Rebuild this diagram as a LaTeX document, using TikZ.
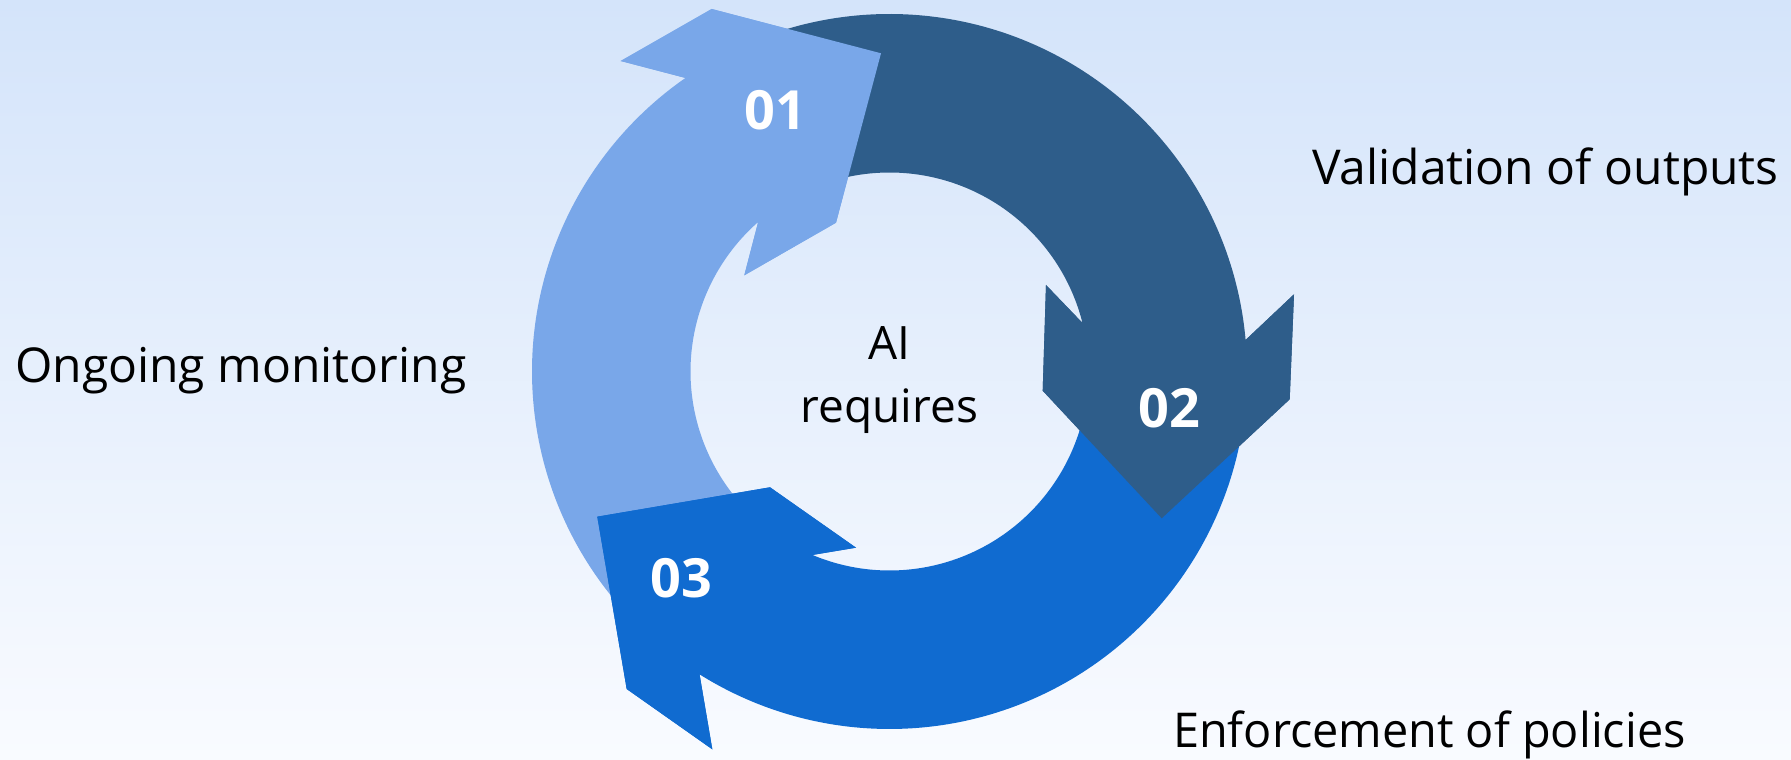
\documentclass[tikz,border=0pt]{standalone}
\usepackage{fontspec}
\setmainfont{Open Sans}
\usetikzlibrary{calc}
\definecolor{bgtop}{RGB}{212,228,250}
\definecolor{bgbot}{RGB}{249,251,255}
\definecolor{arrowA}{RGB}{121,167,233}
\definecolor{arrowB}{RGB}{46,93,138}
\definecolor{arrowC}{RGB}{16,107,208}
\begin{document}
\begin{tikzpicture}[x=1pt,y=1pt,
  sidelabel/.style={font=\fontsize{48}{56}\selectfont, text=black, inner sep=0pt},
  centerlabel/.style={font=\fontsize{46}{54}\selectfont, text=black, inner sep=0pt},
  numlabel/.style={font=\fontsize{54}{60}\selectfont\bfseries, text=white, inner sep=0pt},
]
\useasboundingbox (0,0) rectangle (1791,760);
\shade[top color=bgtop, bottom color=bgbot] (0,0) rectangle (1791,760);
\coordinate (O) at (889.5,388.5);
\def\Ro{357.5}
\def\Ri{199}
% pass 1: full arrows
\fill[arrowA] ($(O)+(222:\Ro)$) arc[start angle=222, end angle=124.8, radius=\Ro]
  -- (620.7,699) -- (711.7,751) -- (881,706.7) -- (836,537.3) -- (744.3,484.7)
  -- ($(O)+(131.3:\Ri)$) arc[start angle=131.3, end angle=222, radius=\Ri] -- cycle;
\fill[arrowB] ($(O)+(115:\Ro)$) arc[start angle=115, end angle=5.06, radius=\Ro]
  -- (1294,465.7) -- (1289.7,360.7) -- (1161.7,241.7) -- (1042.7,369.3) -- (1046,475)
  -- ($(O)+(14.1:\Ri)$) arc[start angle=14.1, end angle=115, radius=\Ri] -- cycle;
\fill[arrowC] ($(O)+(-8:\Ro)$) arc[start angle=-8, end angle=-122.1, radius=\Ro]
  -- (712.3,10.7) -- (626.7,71) -- (597.3,243.3) -- (770,272.7) -- (856,212.3)
  -- ($(O)+(-112.8:\Ri)$) arc[start angle=-112.8, end angle=-8, radius=\Ri] -- cycle;
% pass 2: heads on top
\fill[arrowA] ($(O)+(124.8:\Ro)$) -- (620.7,699) -- (711.7,751) -- (881,706.7)
  -- (836,537.3) -- (744.3,484.7) -- ($(O)+(131.3:\Ri)$) -- cycle;
\fill[arrowB] ($(O)+(5.06:\Ro)$) -- (1294,465.7) -- (1289.7,360.7) -- (1161.7,241.7)
  -- (1042.7,369.3) -- (1046,475) -- ($(O)+(14.1:\Ri)$) -- cycle;
\fill[arrowC] ($(O)+(-122.1:\Ro)$) -- (712.3,10.7) -- (626.7,71) -- (597.3,243.3)
  -- (770,272.7) -- (856,212.3) -- ($(O)+(-112.8:\Ri)$) -- cycle;
% numbers
\node[numlabel] (n1) at (775,650) {01};
\node[numlabel] (n2) at (1169,352) {02};
\node[numlabel] (n3) at (681,182) {03};
% center text
\node[centerlabel, anchor=base] (ai) at (889.5,400) {AI};
\node[centerlabel, anchor=base] (req) at (889.5,337) {requires};
% side labels
\node[sidelabel, anchor=base west] (ongoing) at (15,377.3) {Ongoing monitoring};
\node[sidelabel, anchor=base west] (valid) at (1312,575) {Validation of outputs};
\node[sidelabel, anchor=base west] (enforce) at (1173,12) {\scalebox{0.975}[1]{Enforcement of policies}};
\end{tikzpicture}
\end{document}
